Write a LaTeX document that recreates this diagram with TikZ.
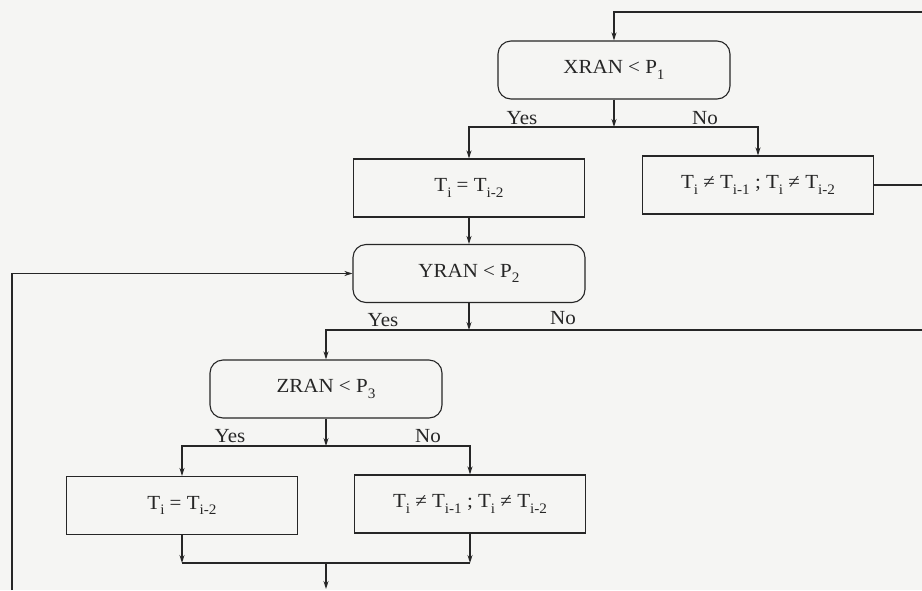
\documentclass[tikz,border=0pt]{standalone}
\usepackage{fontspec}
\setmainfont[FakeStretch=1.05]{Liberation Serif}
\usepackage{tikz}
\usetikzlibrary{arrows.meta}
\definecolor{ink}{HTML}{262626}
\definecolor{paper}{HTML}{F5F5F3}
\newcommand{\lo}[1]{\raisebox{-0.28em}{\fontsize{14.5}{16}\selectfont #1}}

\begin{document}
\begin{tikzpicture}[x=1pt, y=-1pt,
    test/.style={rectangle, rounded corners=13pt, draw=ink, text=ink, line width=1.1pt, minimum width=232pt, minimum height=58pt, inner sep=0pt, font=\fontsize{20}{23}\selectfont},
    act/.style={rectangle, draw=ink, text=ink, line width=1.1pt, minimum width=231pt, minimum height=58pt, inner sep=0pt, font=\fontsize{20}{23}\selectfont},
    lbl/.style={text=ink, inner sep=0pt, font=\fontsize{20}{23}\selectfont},
    wire/.style={draw=ink, line width=1.1pt},
    arr/.style={wire, -{Stealth[length=8pt, width=5pt]}}
]
    \path[fill=paper, use as bounding box] (0,0) rectangle (922,590);

    % Tests
    \node[test] (xran) at (614,70) {XRAN < P\lo{1}};
    \node[test] (yran) at (469,273.5) {YRAN < P\lo{2}};
    \node[test] (zran) at (326,389) {ZRAN < P\lo{3}};

    % Actions
    \node[act] (same1) at (469,188) {T\lo{i} = T\lo{i-2}};
    \node[act] (diff1) at (758,185) {T\lo{i} ≠ T\lo{i-1} ; T\lo{i} ≠ T\lo{i-2}};
    \node[act] (same2) at (182,505.5) {T\lo{i} = T\lo{i-2}};
    \node[act] (diff2) at (470,504) {T\lo{i} ≠ T\lo{i-1} ; T\lo{i} ≠ T\lo{i-2}};

    % Branch points and free ends
    \coordinate (s1) at (614,127);
    \coordinate (s2) at (469,330);
    \coordinate (s3) at (326,446);
    \coordinate (m3) at (326,563);
    \coordinate (top) at (922,12);
    \coordinate (edge) at (922,0);
    \coordinate (foot) at (326,589);
    \coordinate (back) at (12,590);

    % Connections
    \draw[arr] (top) -| (xran);
    \draw[arr] (xran) -- (s1);
    \draw[arr] (s1) -| (same1);
    \draw[arr] (s1) -| (diff1);
    \draw[wire] (diff1.east) -- (diff1.east -| edge);
    \draw[arr] (same1) -- (yran);
    \draw[arr] (back) |- (yran);
    \draw[arr] (yran) -- (s2);
    \draw[wire] (s2) -- (s2 -| edge);
    \draw[arr] (s2) -| (zran);
    \draw[arr] (zran) -- (s3);
    \draw[arr] (s3) -| (same2);
    \draw[arr] (s3) -| (diff2);
    \draw[arr] (same2) -- (same2 |- m3);
    \draw[arr] (diff2) -- (diff2 |- m3);
    \draw[wire] (same2 |- m3) -- (diff2 |- m3);
    \draw[arr] (m3) -- (foot);

    % Branch labels
    \node[lbl] (yes1) at (522,118) {Yes};
    \node[lbl] (no1) at (705,118) {No};
    \node[lbl] (yes2) at (383,320) {Yes};
    \node[lbl] (no2) at (563,318) {No};
    \node[lbl] (yes3) at (230,436) {Yes};
    \node[lbl] (no3) at (428,436) {No};
\end{tikzpicture}
\end{document}
